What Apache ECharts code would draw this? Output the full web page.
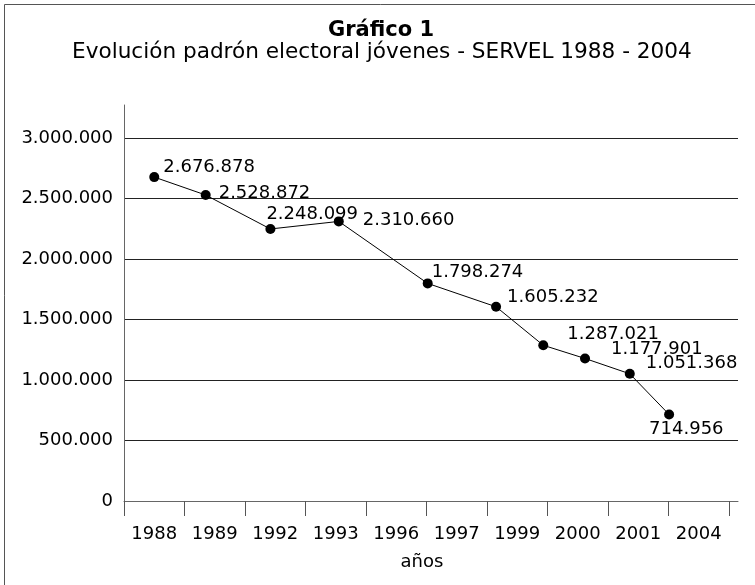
<!DOCTYPE html>
<html>
<head>
<meta charset="utf-8">
<script src="https://cdn.jsdelivr.net/npm/echarts@6/dist/echarts.min.js"></script>
<style>
  html, body { margin: 0; padding: 0; background: #fff; }
  #chart { width: 755px; height: 585px; }
</style>
</head>
<body>
<div id="chart"></div>
<script>
// ---- data ----
const categories = ['1988', '1989', '1992', '1993', '1996', '1997', '1999', '2000', '2001', '2004'];
const voters = [2676878, 2528872, 2248099, 2310660, 1798274, 1605232, 1287021, 1177901, 1051368, 714956];
// where each point sits along the category axis (in category-index units, as drawn)
const pointPositions = [0, 0.85, 1.92, 3.05, 4.52, 5.65, 6.43, 7.12, 7.86, 8.51];
const yMin = 0, yMax = 3000000, yStep = 500000;

// ---- label nudges (styling only) ----
const labelDx = [9, 13, -4, 24, 4, 11, 24, 26, 16, -20];
const labelDy = [-10, -2, -15, -1, -11, -9, -11, -9, -10, 15];

const FONT = 'DejaVu Sans';
function fmt(v) { return String(v).replace(/\B(?=(\d{3})+(?!\d))/g, '.'); }

const chart = echarts.init(document.getElementById('chart'), null, { renderer: 'canvas' });
const option = {
  backgroundColor: '#fff',
  animation: false,
  title: [
    { text: 'Gráfico 1', left: 328, top: 20, padding: 0,
      textStyle: { fontFamily: FONT, fontSize: 21, fontWeight: 'bold', color: '#000' } },
    { text: 'Evolución padrón electoral jóvenes - SERVEL 1988 - 2004', left: 72, top: 41, padding: 0,
      textStyle: { fontFamily: FONT, fontSize: 21.6, fontWeight: 'normal', color: '#000' } }
  ],
  graphic: [
    { type: 'rect', shape: { x: 4.5, y: 4.5, width: 900, height: 800 },
      style: { fill: null, stroke: '#555', lineWidth: 1 }, silent: true }
  ],
  grid: [
    { left: 124, right: 17, top: 105, bottom: 84 },
    { left: 124, right: 17, top: 138, bottom: 84 },
    { left: 124, right: 26, top: 138, bottom: 84 }
  ],
  xAxis: [
    { gridIndex: 0, type: 'value', min: 0, max: 1,
      axisLine: { show: true, lineStyle: { color: '#666', width: 1 } },
      axisTick: { show: false }, axisLabel: { show: false }, splitLine: { show: false } },
    { gridIndex: 1, type: 'value', min: 0, max: 1, show: false },
    { gridIndex: 2, type: 'category', data: categories, boundaryGap: true,
      axisLine: { show: false },
      axisTick: { show: true, length: 15, lineStyle: { color: '#555', width: 1 } },
      axisLabel: { margin: 24, fontFamily: FONT, fontSize: 18, color: '#000' },
      splitLine: { show: false },
      name: 'años', nameLocation: 'middle', nameGap: 52,
      nameTextStyle: { fontFamily: FONT, fontSize: 18, color: '#000', padding: [0, 9, 0, 0] } },
    { gridIndex: 2, type: 'value', min: -0.5, max: categories.length - 0.5, show: false }
  ],
  yAxis: [
    { gridIndex: 0, type: 'value', min: 0, max: 1,
      axisLine: { show: true, lineStyle: { color: '#666', width: 1 } },
      axisTick: { show: false }, axisLabel: { show: false }, splitLine: { show: false } },
    { gridIndex: 1, type: 'value', min: yMin, max: yMax, interval: yStep,
      axisLine: { show: false }, axisTick: { show: false },
      axisLabel: { margin: 11, fontFamily: FONT, fontSize: 18, color: '#000', formatter: fmt },
      splitLine: { show: true, lineStyle: { color: '#222', width: 1 } } },
    { gridIndex: 2, type: 'value', min: yMin, max: yMax, show: false }
  ],
  series: [
    {
      type: 'line',
      xAxisIndex: 3, yAxisIndex: 2,
      data: voters.map((v, i) => ({
        value: [pointPositions[i], v],
        label: { position: [labelDx[i] + 5, labelDy[i] + 5] }
      })),
      symbol: 'circle', symbolSize: 10,
      itemStyle: { color: '#000' },
      lineStyle: { color: '#000', width: 1 },
      label: {
        show: true, fontFamily: FONT, fontSize: 18, color: '#000',
        align: 'left', verticalAlign: 'middle',
        formatter: p => fmt(p.value[1])
      },
      z: 5
    }
  ]
};
chart.setOption(option);
</script>
</body>
</html>
